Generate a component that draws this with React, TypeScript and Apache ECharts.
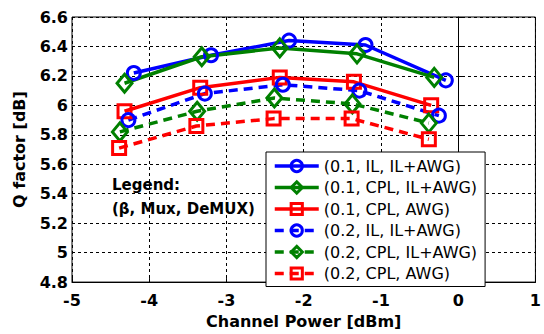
import React, { useEffect, useRef } from "react";
import * as echarts from "echarts";

const seriesNames = [
  "(0.1, IL, IL+AWG)",
  "(0.1, CPL, IL+AWG)",
  "(0.1, CPL, AWG)",
  "(0.2, IL, IL+AWG)",
  "(0.2, CPL, IL+AWG)",
  "(0.2, CPL, AWG)",
];

const xS1 = [-4.2, -3.2, -2.19, -1.2, -0.16];
const yS1 = [6.22, 6.34, 6.44, 6.41, 6.17];
const xS2 = [-4.32, -3.32, -2.31, -1.31, -0.31];
const yS2 = [6.15, 6.33, 6.39, 6.35, 6.19];
const xS3 = [-4.32, -3.34, -2.31, -1.35, -0.35];
const yS3 = [5.96, 6.12, 6.19, 6.16, 6.0];
const xS4 = [-4.27, -3.28, -2.27, -1.28, -0.25];
const yS4 = [5.9, 6.08, 6.14, 6.1, 5.93];
const xS5 = [-4.38, -3.38, -2.38, -1.37, -0.38];
const yS5 = [5.82, 5.96, 6.05, 6.01, 5.88];
const xS6 = [-4.39, -3.39, -2.39, -1.38, -0.38];
const yS6 = [5.71, 5.86, 5.91, 5.91, 5.77];

const xList = [xS1, xS2, xS3, xS4, xS5, xS6];
const yList = [yS1, yS2, yS3, yS4, yS5, yS6];

const colors = ["#0000ff", "#008000", "#ff0000", "#0000ff", "#008000", "#ff0000"];
const symbols = ["circle", "diamond", "rect", "circle", "diamond", "rect"];
const symbolSizes: any[] = [13, [15, 18], 13, 13, [15, 18], 13];
const dashed = [false, false, false, true, true, true];

export default function App() {
  const ref = useRef<HTMLDivElement>(null);
  useEffect(() => {
    if (!ref.current) return;
    const chart = echarts.init(ref.current, null, { renderer: "svg" });
    const font = "DejaVu Sans";
    const series = seriesNames.map((name, i) => ({
      name,
      type: "line",
      data: xList[i].map((x, j) => [x, yList[i][j]]),
      symbol: symbols[i],
      symbolSize: symbolSizes[i],
      showSymbol: true,
      lineStyle: {
        color: colors[i],
        width: 3.5,
        type: dashed[i] ? [9, 6] : "solid",
      },
      itemStyle: {
        color: "rgba(255,255,255,0)",
        borderColor: colors[i],
        borderWidth: 3,
      },
      z: 3,
    }));
    chart.setOption({
      animation: false,
      textStyle: { fontFamily: font },
      grid: {
        left: 72,
        right: 1,
        top: 17,
        bottom: 47,
        show: true,
        borderColor: "#000",
        borderWidth: 1,
        backgroundColor: "#fff",
      },
      xAxis: {
        type: "value",
        min: -5,
        max: 1,
        interval: 1,
        name: "Channel Power [dBm]",
        nameLocation: "middle",
        nameGap: 28,
        nameTextStyle: { fontFamily: font, fontWeight: "bold", fontSize: 16, color: "#000" },
        axisLine: { show: true, lineStyle: { color: "#000", width: 1 } },
        axisTick: { show: true, inside: true, length: 4, lineStyle: { color: "#000" } },
        axisLabel: { fontFamily: font, fontWeight: "bold", fontSize: 16, color: "#000", margin: 10 },
        splitLine: { show: true, lineStyle: { color: "#000", type: [3, 3], width: 1 } },
      },
      yAxis: {
        type: "value",
        min: 4.8,
        max: 6.6,
        interval: 0.2,
        name: "Q factor [dB]",
        nameLocation: "middle",
        nameRotate: 90,
        nameGap: 45,
        nameTextStyle: { fontFamily: font, fontWeight: "bold", fontSize: 16, color: "#000" },
        axisLine: { show: true, lineStyle: { color: "#000", width: 1 } },
        axisTick: { show: true, inside: true, length: 4, lineStyle: { color: "#000" } },
        axisLabel: {
          fontFamily: font,
          fontWeight: "bold",
          fontSize: 16,
          color: "#000",
          margin: 4,
          formatter: (v: number) => String(parseFloat(v.toFixed(1))),
        },
        splitLine: { show: true, lineStyle: { color: "#000", type: [3, 3], width: 1 } },
      },
      legend: {
        data: seriesNames,
        orient: "vertical",
        left: 266,
        top: 152,
        itemWidth: 44,
        itemHeight: 14,
        itemGap: 5.5,
        padding: [6, 8, 5, 7],
        backgroundColor: "#fff",
        borderColor: "#000",
        borderWidth: 1,
        borderRadius: 0,
        lineStyle: { width: 3.5 },
        itemStyle: { borderWidth: 3 },
        textStyle: { fontFamily: font, fontSize: 16, color: "#000", lineHeight: 16 },
      },
      graphic: [
        {
          type: "text",
          left: 112,
          top: 177,
          style: {
            text: "Legend:",
            font: `bold 15px "${font}"`,
            fill: "#000",
          },
        },
        {
          type: "text",
          left: 112,
          top: 201,
          style: {
            text: "(β, Mux, DeMUX)",
            font: `bold 15px "${font}"`,
            fill: "#000",
          },
        },
      ],
      series,
    });
    return () => chart.dispose();
  }, []);
  return (
    <div
      ref={ref}
      style={{ position: "fixed", left: 0, top: 0, width: 544, height: 334, background: "#fff" }}
    />
  );
}
